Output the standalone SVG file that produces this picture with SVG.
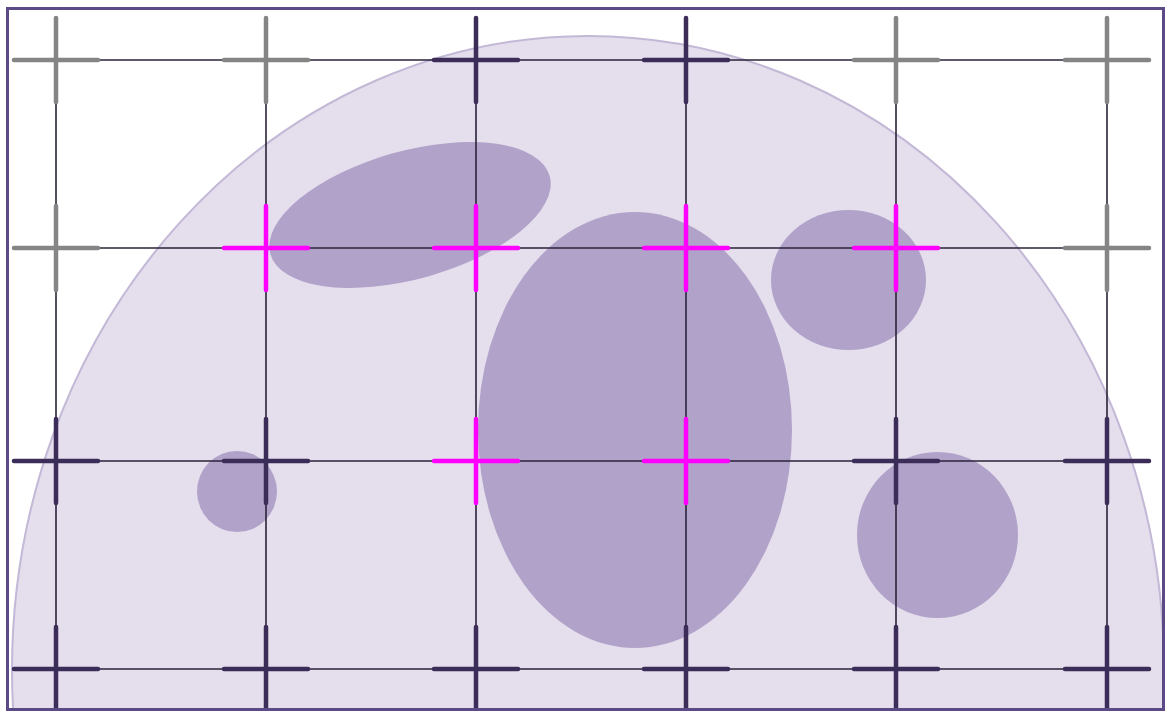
<svg xmlns="http://www.w3.org/2000/svg" width="1166" height="711" viewBox="0 0 1166 711">
<defs>
<style>
.grid line{stroke:#2a2238;stroke-width:1.6}
.x{stroke-width:4.5;stroke-linecap:round}
.g{stroke:#858585}
.d{stroke:#3b2d58}
.m{stroke:#ff00ff}
.blob{fill:#b1a2c9}
</style>
<g id="crossShape">
<line x1="-42" y1="0" x2="42" y2="0"/>
<line x1="0" y1="-42" x2="0" y2="42"/>
</g>
</defs>
<rect x="0" y="0" width="1166" height="711" fill="#ffffff"/>
<g id="background">
<ellipse cx="588" cy="670" rx="576" ry="634" fill="#e4deed" stroke="#c3b8d6" stroke-width="2"/>
<ellipse class="blob" cx="410" cy="215" rx="145" ry="64" transform="rotate(-15.6 410 215)"/>
<ellipse class="blob" cx="635" cy="430" rx="157" ry="218"/>
<ellipse class="blob" cx="848.5" cy="280" rx="77.5" ry="70"/>
<ellipse class="blob" cx="237" cy="491.5" rx="40" ry="40.5"/>
<ellipse class="blob" cx="937.5" cy="535" rx="80.5" ry="83"/>
</g>
<g id="connectors" class="grid">
<line x1="14" y1="60" x2="1149" y2="60"/>
<line x1="14" y1="248" x2="1149" y2="248"/>
<line x1="14" y1="461" x2="1149" y2="461"/>
<line x1="14" y1="669" x2="1149" y2="669"/>
<line x1="56" y1="19" x2="56" y2="710"/>
<line x1="266" y1="19" x2="266" y2="710"/>
<line x1="476" y1="19" x2="476" y2="710"/>
<line x1="686" y1="19" x2="686" y2="710"/>
<line x1="896" y1="19" x2="896" y2="710"/>
<line x1="1107" y1="19" x2="1107" y2="710"/>
</g>
<g id="n-r1c1" class="x g"><use href="#crossShape" x="56" y="60"/></g>
<g id="n-r1c2" class="x g"><use href="#crossShape" x="266" y="60"/></g>
<g id="n-r1c3" class="x d"><use href="#crossShape" x="476" y="60"/></g>
<g id="n-r1c4" class="x d"><use href="#crossShape" x="686" y="60"/></g>
<g id="n-r1c5" class="x g"><use href="#crossShape" x="896" y="60"/></g>
<g id="n-r1c6" class="x g"><use href="#crossShape" x="1107" y="60"/></g>
<g id="n-r2c1" class="x g"><use href="#crossShape" x="56" y="248"/></g>
<g id="n-r2c2" class="x m"><use href="#crossShape" x="266" y="248"/></g>
<g id="n-r2c3" class="x m"><use href="#crossShape" x="476" y="248"/></g>
<g id="n-r2c4" class="x m"><use href="#crossShape" x="686" y="248"/></g>
<g id="n-r2c5" class="x m"><use href="#crossShape" x="896" y="248"/></g>
<g id="n-r2c6" class="x g"><use href="#crossShape" x="1107" y="248"/></g>
<g id="n-r3c1" class="x d"><use href="#crossShape" x="56" y="461"/></g>
<g id="n-r3c2" class="x d"><use href="#crossShape" x="266" y="461"/></g>
<g id="n-r3c3" class="x m"><use href="#crossShape" x="476" y="461"/></g>
<g id="n-r3c4" class="x m"><use href="#crossShape" x="686" y="461"/></g>
<g id="n-r3c5" class="x d"><use href="#crossShape" x="896" y="461"/></g>
<g id="n-r3c6" class="x d"><use href="#crossShape" x="1107" y="461"/></g>
<g id="n-r4c1" class="x d"><use href="#crossShape" x="56" y="669"/></g>
<g id="n-r4c2" class="x d"><use href="#crossShape" x="266" y="669"/></g>
<g id="n-r4c3" class="x d"><use href="#crossShape" x="476" y="669"/></g>
<g id="n-r4c4" class="x d"><use href="#crossShape" x="686" y="669"/></g>
<g id="n-r4c5" class="x d"><use href="#crossShape" x="896" y="669"/></g>
<g id="n-r4c6" class="x d"><use href="#crossShape" x="1107" y="669"/></g>
<rect id="frame" x="7.5" y="8.5" width="1156" height="701" fill="none" stroke="#5b4a86" stroke-width="3"/>
</svg>
